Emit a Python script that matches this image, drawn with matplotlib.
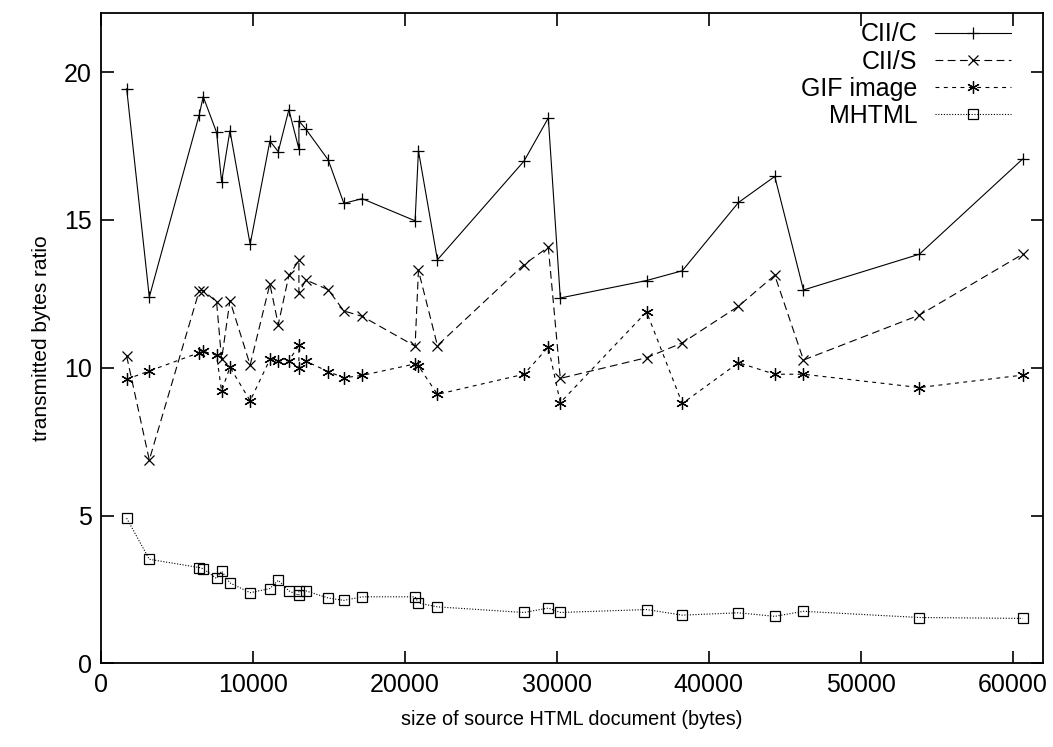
import numpy as np
import matplotlib
matplotlib.use("Agg")
import matplotlib.pyplot as plt

# document sizes (bytes)
size = [1670, 3160, 6450, 6710, 7590, 7920, 8470, 9800, 11100, 11650,
        12350, 13010, 13010, 13470, 14940, 15970, 17170, 20660, 20880, 22130,
        27830, 29430, 30220, 35900, 38250, 41950, 44340, 46230, 53860, 60660]

cii_c = [19.44, 12.39, 18.56, 19.17, 17.96, 16.29, 18.02, 14.18, 17.67, 17.31,
         18.73, 17.40, 18.35, 18.07, 17.03, 15.56, 15.72, 14.97, 17.34, 13.65,
         16.99, 18.45, 12.36, 12.95, 13.28, 15.59, 16.47, 12.63, 13.84, 17.06]

cii_s = [10.39, 6.88, 12.61, 12.61, 12.23, 10.28, 12.27, 10.09, 12.83, 11.46,
         13.12, 13.63, 12.53, 12.97, 12.64, 11.92, 11.74, 10.73, 13.29, 10.75,
         13.49, 14.08, 9.64, 10.34, 10.84, 12.08, 13.13, 10.26, 11.78, 13.84]

gif = [9.61, 9.89, 10.51, 10.56, 10.42, 9.21, 10.02, 8.88, 10.28, 10.23,
       10.24, 10.76, 10.00, 10.22, 9.87, 9.66, 9.74, 10.13, 10.06, 9.10,
       9.78, 10.70, 8.82, 11.89, 8.79, 10.17, 9.78, 9.78, 9.33, 9.75]

mhtml = [4.91, 3.52, 3.24, 3.20, 2.87, 3.12, 2.72, 2.39, 2.53, 2.81,
         2.45, 2.30, 2.45, 2.45, 2.21, 2.13, 2.25, 2.25, 2.04, 1.91,
         1.72, 1.87, 1.72, 1.82, 1.63, 1.71, 1.59, 1.76, 1.55, 1.52]

plt.rcParams['font.family'] = ['Liberation Sans', 'DejaVu Sans']

fig = plt.figure(figsize=(10.53, 7.47), dpi=100)
ax = fig.add_axes([0.0962, 0.112, 0.8943, 0.8706])

lw = 0.8
ax.plot(size, cii_c, color='black', lw=lw, ls='-', marker='+', ms=8, mew=0.9,
        label='CII/C')
ax.plot(size, cii_s, color='black', lw=lw, ls=(0, (7, 4)), marker='x', ms=6.5,
        mew=0.9, label='CII/S')
ax.plot(size, gif, color='black', lw=lw, ls=(0, (3.5, 4)), marker=(6, 2, 0),
        ms=9, mew=0.9, label='GIF image')
ax.plot(size, mhtml, color='black', lw=lw, ls=(0, (1, 1.5)), marker='s', ms=6.5,
        mfc='none', mew=0.9, label='MHTML')

ax.set_xlim(0, 62000)
ax.set_ylim(0, 22)
ax.set_xticks(np.arange(0, 60001, 10000))
ax.set_yticks(np.arange(0, 21, 5))
ax.tick_params(direction='in', length=9, width=1.2, top=True, right=True,
               labelsize=18, pad=7)
for s in ax.spines.values():
    s.set_linewidth(1.3)

ax.set_xlabel('size of source HTML document (bytes)', fontsize=14.3, labelpad=9)
ax.set_ylabel('transmitted bytes ratio', fontsize=15, labelpad=9)

leg = ax.legend(loc='upper right', bbox_to_anchor=(0.977, 1.001),
                frameon=False, markerfirst=False, fontsize=18,
                handlelength=3.04, handletextpad=0.72, labelspacing=0.13,
                borderaxespad=0)
for t in leg.get_texts():
    t.set_ha('right')

fig.savefig('out.png', dpi=100)
